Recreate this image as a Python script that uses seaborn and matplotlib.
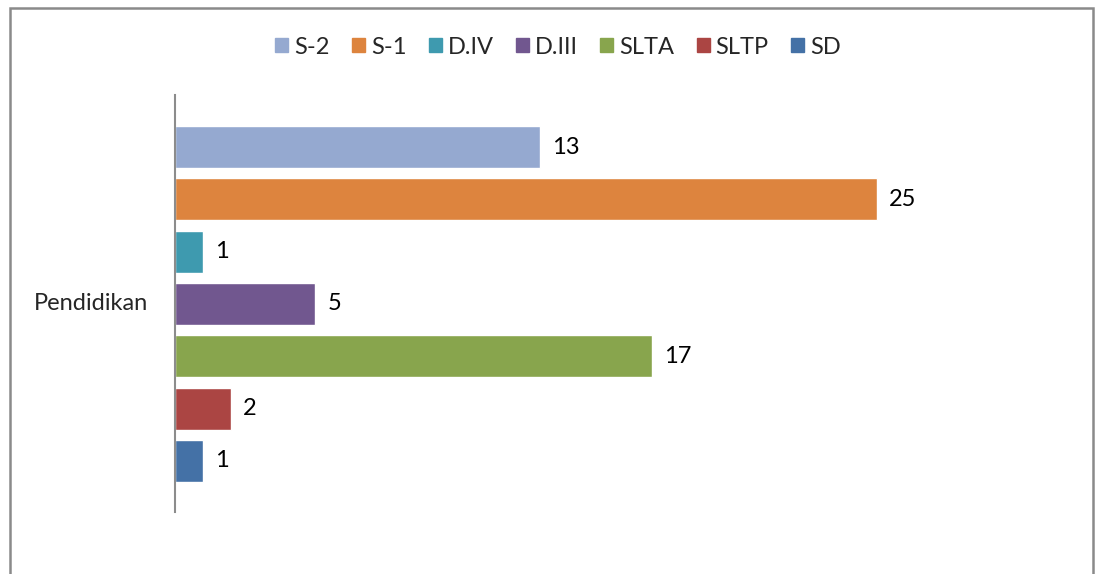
import matplotlib
matplotlib.use("Agg")
from matplotlib import pyplot as plt
from matplotlib.patches import Rectangle
import pandas as pd
import seaborn as sns

# data
series = ["S-2", "S-1", "D.IV", "D.III", "SLTA", "SLTP", "SD"]
values = [13, 25, 1, 5, 17, 2, 1]
colors = ["#95A9D0", "#DD843E", "#3E9AAF", "#71578F", "#88A54D", "#AB4543", "#4471A6"]
category = "Pendidikan"

W, H = 1095, 574
FS = 17
sns.set_style("white")
plt.rcParams["font.family"] = ["Lato", "DejaVu Sans"]

df = pd.DataFrame({"series": series, "value": values})

fig = plt.figure(figsize=(W / 100, H / 100), dpi=100)
# plot area in pixels: left 175, top 95, bottom 512, right 1050
ax = fig.add_axes([175 / W, 1 - 512 / H, 875 / W, (512 - 95) / H])
sns.barplot(data=df, y="series", x="value", hue="series", palette=colors,
            order=series, hue_order=series, width=0.8, dodge=False,
            saturation=1, legend=False, ax=ax, orient="h")

ax.set_xlim(0, 875 / 28.08)
ax.set_ylim(6.975, -0.994)
ax.set_xticks([])
ax.set_yticks([])
ax.set_xlabel("")
ax.set_ylabel("")
for s in ["top", "right", "bottom"]:
    ax.spines[s].set_visible(False)
ax.spines["left"].set_color("#8c8c8c")
ax.spines["left"].set_linewidth(1.5)

for i, v in enumerate(values):
    ax.text(v + 12 / 28.08, i, str(v), va="center", ha="left", fontsize=FS,
            color="black")

fig.text(148 / W, 1 - 303 / H, category, ha="right", va="center", fontsize=FS)

# legend
handles = [Rectangle((0, 0), 1, 1, color=c) for c in colors]
fig.legend(handles, series, loc="center", bbox_to_anchor=(558 / W, 1 - 47 / H),
           ncol=7, frameon=False, fontsize=FS, handlelength=0.55,
           handleheight=0.55, handletextpad=0.25, columnspacing=0.95,
           borderpad=0, borderaxespad=0)

# chart border
fig.patches.append(Rectangle((10 / W, -0.05), (1093 - 10) / W, 1.05 - 8 / H,
                             transform=fig.transFigure, fill=False,
                             edgecolor="#8a8a8a", linewidth=1.8))

fig.savefig("out.png", dpi=100)
